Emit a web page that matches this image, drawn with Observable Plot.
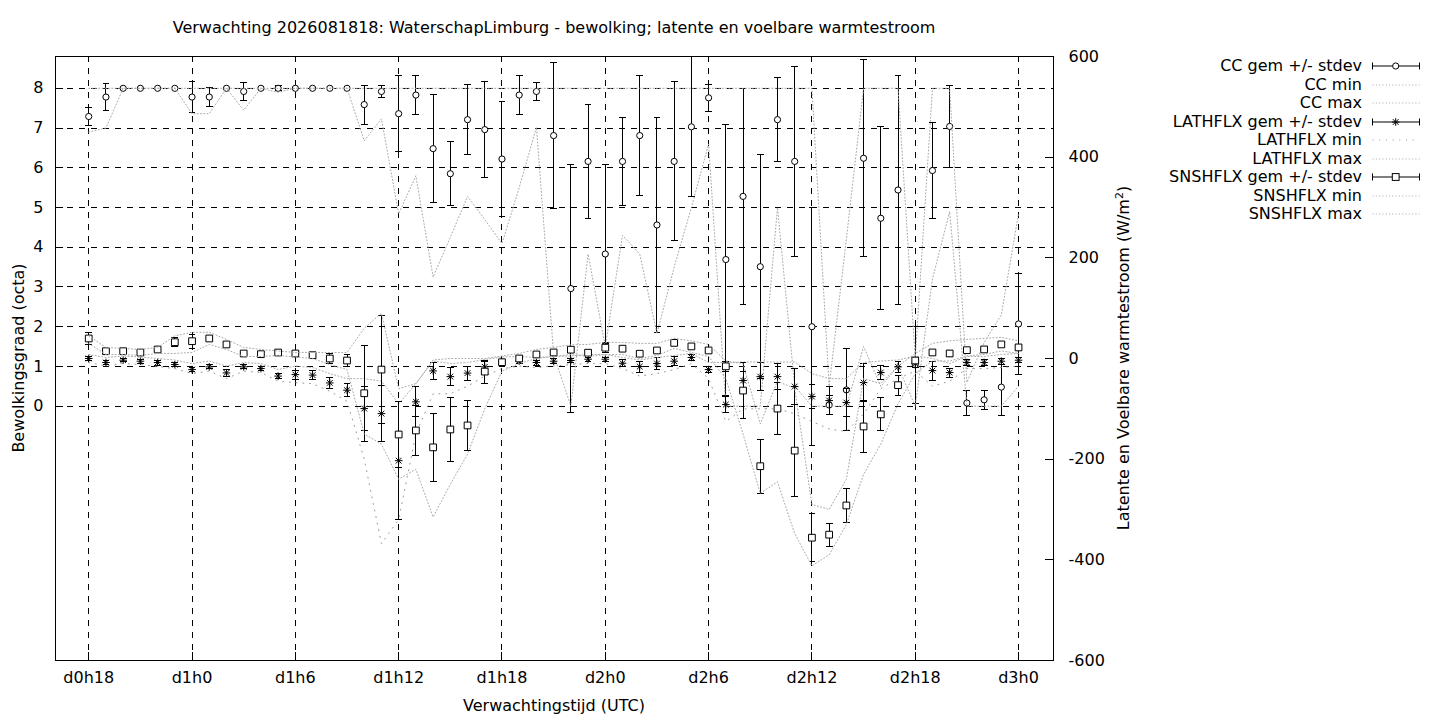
<!DOCTYPE html>
<html>
<head>
<meta charset="utf-8">
<script src="https://cdn.jsdelivr.net/npm/d3@7"></script>
<script src="https://cdn.jsdelivr.net/npm/@observablehq/plot@0.6"></script>
<style>
  body { margin: 0; background: #fff; }
  #wrap { position: relative; width: 1440px; height: 720px; font-family: "DejaVu Sans", sans-serif; font-size: 16px; color: #000; }
  #chart { position: absolute; left: 0; top: 0; }
  .lab { position: absolute; white-space: nowrap; line-height: 18px; }
  #title { left: 55px; width: 998px; top: 19px; text-align: center; }
  #xlab { left: 55px; width: 998px; top: 697px; text-align: center; }
  .rot { transform: translate(-50%, -50%) rotate(-90deg); }
  .legtext { position: absolute; left: 1000px; width: 362px; text-align: right; white-space: nowrap; line-height: 18px; height: 18px; }
  .legsvg { position: absolute; left: 1368px; }
</style>
</head>
<body>
<div id="wrap">
  <div id="chart"></div>
  <div id="title" class="lab">Verwachting 2026081818: WaterschapLimburg - bewolking; latente en voelbare warmtestroom</div>
  <div id="xlab" class="lab">Verwachtingstijd (UTC)</div>
  <div class="lab rot" style="left:19px; top:358px;">Bewolkingsgraad (octa)</div>
  <div class="lab rot" style="left:1124px; top:358px;">Latente en Voelbare warmtestroom (W/m<sup style="font-size:11px; vertical-align: 6px; line-height:0">2</sup>)</div>
  <div id="legend"></div>
</div>
<script>
// ---- data (hours since d0h0) ----
const hours = [18,19,20,21,22,23,24,25,26,27,28,29,30,31,32,33,34,35,36,37,38,39,40,41,42,43,44,45,46,47,48,49,50,51,52,53,54,55,56,57,58,59,60,61,62,63,64,65,66,67,68,69,70,71,72];

// cloud cover (octa)
const ccMean = [7.29,7.78,8,8,8,8,7.78,7.78,8,7.92,8,8,8,8,8,8,7.59,7.92,7.36,7.83,6.48,5.85,7.21,6.96,6.22,7.83,7.92,6.81,2.96,6.16,3.83,6.16,6.81,4.56,6.16,7.03,7.76,3.69,5.28,3.51,7.21,6.16,2.0,0.03,0.41,6.24,4.73,5.44,1.04,5.93,7.04,0.08,0.16,0.48,2.07];
const ccSd   = [0.23,0.33,0,0,0,0,0.38,0.24,0,0.23,0,0.06,0,0,0,0,0.49,0.16,0.96,0.48,1.36,0.8,0.88,1.2,1.45,0.48,0.23,1.84,3.12,1.43,2.24,1.11,1.52,2.71,2.0,1.76,0.34,3.41,2.71,2.82,1.05,2.39,2.99,0.25,1.03,2.48,2.3,2.88,0.96,1.2,1.04,0.32,0.24,0.71,1.28];
const ccMin  = [6.9,7.0,8,8,8,8,7.36,7.36,8,7.45,8,7.9,8,8,8,8,6.68,7.23,4.84,5.8,3.25,4.25,5.28,4.7,4.09,5.5,7.02,1.3,0,3.83,1.5,4.3,3.83,1.83,3.5,5.0,6.6,0,0,0,5.0,0.5,0,0,0,1.5,0.5,1.0,0,3.2,4.9,0,0,0,0.5];
const ccMax  = [8,8,8,8,8,8,8,8,8,8,8,8,8,8,8,8,8,8,8,8,8,8,8,8,8,8,8,8,8,8,8,8,8,8,8,8,8,8,8,8,8,8,8,0.5,4.2,8,8,8,1.2,8,8,0.6,1.6,2.3,4.85];

// latent heat flux (W/m2)
const lhMean = [0,-8,-3.4,-5.4,-8,-12,-22,-16.6,-28.6,-16.6,-20,-35,-32,-33,-48.5,-63,-99.5,-109.5,-203,-86,-24.6,-36,-29,-16.6,-7,-5,-8,-5.4,-4,-1.4,-1.4,-9.4,-16,-10,-5.4,2,-22,-91.5,-43.8,-36,-36,-55.7,-75.6,-83.6,-87.6,-47.8,-27.9,-16.6,-10,-24,-28,-8,-8,-5.4,-3.4];
const lhSd   = [4,4,3,4,5,4,4,4,6.6,4,4,5,9,9,10.6,13,44.5,56,117,30,16.6,17.6,14,10,6,5,5,5,4,4,4,6.6,11,11,9,5,6,15.6,18.6,27.9,26,36,24,27,27.9,37.5,13,11,8,19,9,6,6,6,5];
const lhMin  = [-8,-15,-10,-12,-16,-20,-30,-25,-40,-25,-28,-45,-48,-50,-65,-85,-200,-368,-320,-150,-70,-70,-55,-35,-20,-15,-18,-15,-12,-10,-10,-20,-35,-30,-22,-10,-40,-125,-100,-100,-100,-110,-125,-140,-145,-110,-60,-40,-25,-55,-45,-20,-20,-18,-15];
const lhMax  = [8,2,5,3,0,-3,-10,-5,-15,-8,-10,-22,-15,-18,-30,-40,-40,-45,-90,-50,-5,-10,-8,-2,3,4,2,4,5,8,8,2,-3,2,6,10,-8,-8,-7,-7,-7,-7,-30,-40,-40,-8,-5,-3,5,0,-10,4,4,8,10];

// sensible heat flux (W/m2)
const shMean = [39.8,14.5,14.5,11.9,17.9,32.4,34.4,39.8,27.9,9.9,8.6,11.9,9.9,6.6,0,-4,-69,-22,-151,-143,-176.5,-141,-133,-26,-7.4,0,8,12,17.5,11.5,21.5,19.5,9.5,16,31,24,16,-15.6,-63.7,-214,-99.5,-183,-356,-350,-292,-135,-111,-53,-4,12,10,16.5,18,28,22];
const shSd   = [11,3,3,3,3,9,14,3,3,3,3,3,5,3,10,11.6,95.5,108,65,50,68,63,50,23,5,4,4,4,4,4,10,4,4,4,4,4,4,10,55.7,54,51.7,92,47.4,23,34,51,33,20,5,4,6,4,5,4,4];
const shMin  = [30,8,8,6,10,10,12,28,18,4,4,6,3,0,-12,-22,-150,-170,-240,-220,-315,-250,-190,-100,-25,-10,0,4,8,4,8,8,0,6,20,12,4,-40,-150,-268,-245,-348,-412,-390,-330,-230,-170,-90,-30,-5,-5,5,8,15,10];
const shMax  = [45,22,20,18,22,45,52,52,38,22,18,15,12,12,12,12,60,90,-60,-50,-3,0,0,0,5,10,18,22,27,28,32,32,30,30,40,35,28,-5,-10,-130,-45,-60,-290,-300,-240,-40,-50,-15,10,30,35,38,40,42,35];

// axes
const xTicks = [18,24,30,36,42,48,54,60,66,72];
const xTickLabels = ["d0h18","d1h0","d1h6","d1h12","d1h18","d2h0","d2h6","d2h12","d2h18","d3h0"];
const ccTicks = [0,1,2,3,4,5,6,7,8];
const wTicks = [-600,-400,-200,0,200,400,600];

const legendLabels = ["CC gem +/- stdev","CC min","CC max","LATHFLX gem +/- stdev","LATHFLX min","LATHFLX max","SNSHFLX gem +/- stdev","SNSHFLX min","SNSHFLX max"];

// ---- helpers ----
// right axis (W/m2) expressed on the left (octa) scale: -600..600 <-> -6.4..8.8
const W2Y = w => 1.2 + w * 7.6 / 600;
const Y2W = y => Math.round((y - 1.2) * 600 / 7.6);

const rows = hours.map((h, i) => ({
  h,
  ccM: ccMean[i], ccS: ccSd[i], ccLo: ccMin[i], ccHi: ccMax[i],
  lhM: W2Y(lhMean[i]), lhLo: W2Y(lhMean[i] - lhSd[i]), lhHi: W2Y(lhMean[i] + lhSd[i]), lhS: lhSd[i],
  lhMin: W2Y(lhMin[i]), lhMax: W2Y(lhMax[i]),
  shM: W2Y(shMean[i]), shLo: W2Y(shMean[i] - shSd[i]), shHi: W2Y(shMean[i] + shSd[i]), shS: shSd[i],
  shMin: W2Y(shMin[i]), shMax: W2Y(shMax[i])
}));
rows.forEach(r => { r.ccLoE = r.ccM - r.ccS; r.ccHiE = r.ccM + r.ccS; });

const capSym = { draw(ctx, size) { const r = Math.sqrt(size / Math.PI); ctx.moveTo(-r, 0); ctx.lineTo(r, 0); } };
const starSym = { draw(ctx, size) {
  const r = Math.sqrt(size / Math.PI), d = r * 0.75;
  ctx.moveTo(-r, 0); ctx.lineTo(r, 0); ctx.moveTo(0, -r); ctx.lineTo(0, r);
  ctx.moveTo(-d, -d); ctx.lineTo(d, d); ctx.moveTo(-d, d); ctx.lineTo(d, -d);
} };

const crisp = { shapeRendering: "crispEdges" };
function errorMarks(lo, hi, mid, sd, sym, r, fill) {
  const withBar = rows.filter(d => d[sd] > 0);
  return [
    Plot.ruleX(withBar, { x: "h", y1: lo, y2: hi, stroke: "#000", strokeWidth: 1, ...crisp }),
    Plot.dot(withBar, { x: "h", y: lo, symbol: capSym, r: 3.4, stroke: "#000", fill: "none", strokeWidth: 1, ...crisp }),
    Plot.dot(withBar, { x: "h", y: hi, symbol: capSym, r: 3.4, stroke: "#000", fill: "none", strokeWidth: 1, ...crisp }),
    Plot.dot(rows, { x: "h", y: mid, symbol: sym, r, stroke: "#000", fill, strokeWidth: 1 })
  ];
}

const grey = "#a8a8a8";
const chart = Plot.plot({
  width: 1440, height: 720,
  marginLeft: 55, marginRight: 387, marginTop: 56, marginBottom: 60,
  style: { fontFamily: '"DejaVu Sans", sans-serif', fontSize: "16px", color: "#000", background: "#fff", overflow: "visible" },
  x: { domain: [16.07, 74.03] },
  y: { domain: [-6.4, 8.8] },
  marks: [
    Plot.ruleY(ccTicks, { y: d => d, stroke: "#000", strokeWidth: 1, strokeDasharray: "6,6", ...crisp }),
    Plot.ruleX(xTicks, { x: d => d, stroke: "#000", strokeWidth: 1, strokeDasharray: "6,6", ...crisp }),
    Plot.tickY(wTicks, { y: d => W2Y(d), insetLeft: 990, stroke: "#000", ...crisp }),
    Plot.tickX(xTicks, { x: d => d, insetTop: 596, stroke: "#000", ...crisp }),
    Plot.tickY(ccTicks, { y: d => d, insetRight: 990, stroke: "#000", ...crisp }),
    Plot.frame({ stroke: "#000", strokeWidth: 1, ...crisp }),
    Plot.axisX({ ticks: xTicks, tickFormat: d => xTickLabels[xTicks.indexOf(d)], tickSize: 0, tickPadding: 11, label: null, fontSize: 16 }),
    Plot.axisY({ anchor: "left", ticks: ccTicks, tickFormat: d => String(d), tickSize: 0, tickPadding: 12, label: null, fontSize: 16 }),
    Plot.axisY({ anchor: "right", ticks: wTicks.map(W2Y), tickFormat: d => String(Y2W(d)), tickSize: 0, tickPadding: 15, label: null, fontSize: 16 }),
    // CC
    ...errorMarks("ccLoE", "ccHiE", "ccM", "ccS", "circle", 3.1, "#fff"),
    Plot.line(rows, { x: "h", y: "ccLo", stroke: grey, strokeWidth: 1, strokeDasharray: "1,2.3" }),
    Plot.line(rows, { x: "h", y: "ccHi", stroke: grey, strokeWidth: 1, strokeDasharray: "1,2.3" }),
    // LATHFLX
    ...errorMarks("lhLo", "lhHi", "lhM", "lhS", starSym, 3.8, "none"),
    Plot.line(rows, { x: "h", y: "lhMin", stroke: "#999", strokeWidth: 1, strokeDasharray: "1,5.7" }),
    Plot.line(rows, { x: "h", y: "lhMax", stroke: grey, strokeWidth: 1, strokeDasharray: "1,2.3" }),
    // SNSHFLX
    ...errorMarks("shLo", "shHi", "shM", "shS", "square", 3.8, "#fff"),
    Plot.line(rows, { x: "h", y: "shMin", stroke: grey, strokeWidth: 1, strokeDasharray: "1,2.3" }),
    Plot.line(rows, { x: "h", y: "shMax", stroke: grey, strokeWidth: 1, strokeDasharray: "1,2.3" })
  ]
});
document.getElementById("chart").appendChild(chart);

// ---- legend ----
const legend = document.getElementById("legend");
const kinds = ["err-circle","dot","dot","err-star","sparse","dot","err-square","dot","dot"];
legendLabels.forEach((lab, k) => {
  const cy = 66 + 18.55 * k;
  const t = document.createElement("div");
  t.className = "legtext";
  t.style.top = (cy - 9) + "px";
  t.textContent = lab;
  legend.appendChild(t);
  const ns = "http://www.w3.org/2000/svg";
  const s = document.createElementNS(ns, "svg");
  s.setAttribute("class", "legsvg");
  s.setAttribute("width", "56"); s.setAttribute("height", "12");
  s.style.top = (cy - 6) + "px";
  const kind = kinds[k];
  let html = "";
  if (kind.startsWith("err")) {
    html += '<line x1="4.5" y1="6" x2="51.5" y2="6" stroke="#000"/>';
    html += '<line x1="4.5" y1="2.5" x2="4.5" y2="9.5" stroke="#000"/>';
    html += '<line x1="51.5" y1="2.5" x2="51.5" y2="9.5" stroke="#000"/>';
    if (kind === "err-circle") html += '<circle cx="27.7" cy="6" r="3.1" fill="#fff" stroke="#000"/>';
    if (kind === "err-square") html += '<rect x="24.3" y="2.6" width="6.8" height="6.8" fill="#fff" stroke="#000"/>';
    if (kind === "err-star") html += '<path d="M23.9,6H31.5M27.7,2.2V9.8M24.85,3.15L30.55,8.85M24.85,8.85L30.55,3.15" stroke="#000" fill="none"/>';
  } else if (kind === "sparse") {
    html += '<line x1="4.5" y1="6" x2="51.5" y2="6" stroke="#999" stroke-dasharray="1,5.7"/>';
  } else {
    html += '<line x1="4.5" y1="6" x2="51.5" y2="6" stroke="#a8a8a8" stroke-dasharray="1,2.3"/>';
  }
  s.innerHTML = html;
  legend.appendChild(s);
});
</script>
</body>
</html>
